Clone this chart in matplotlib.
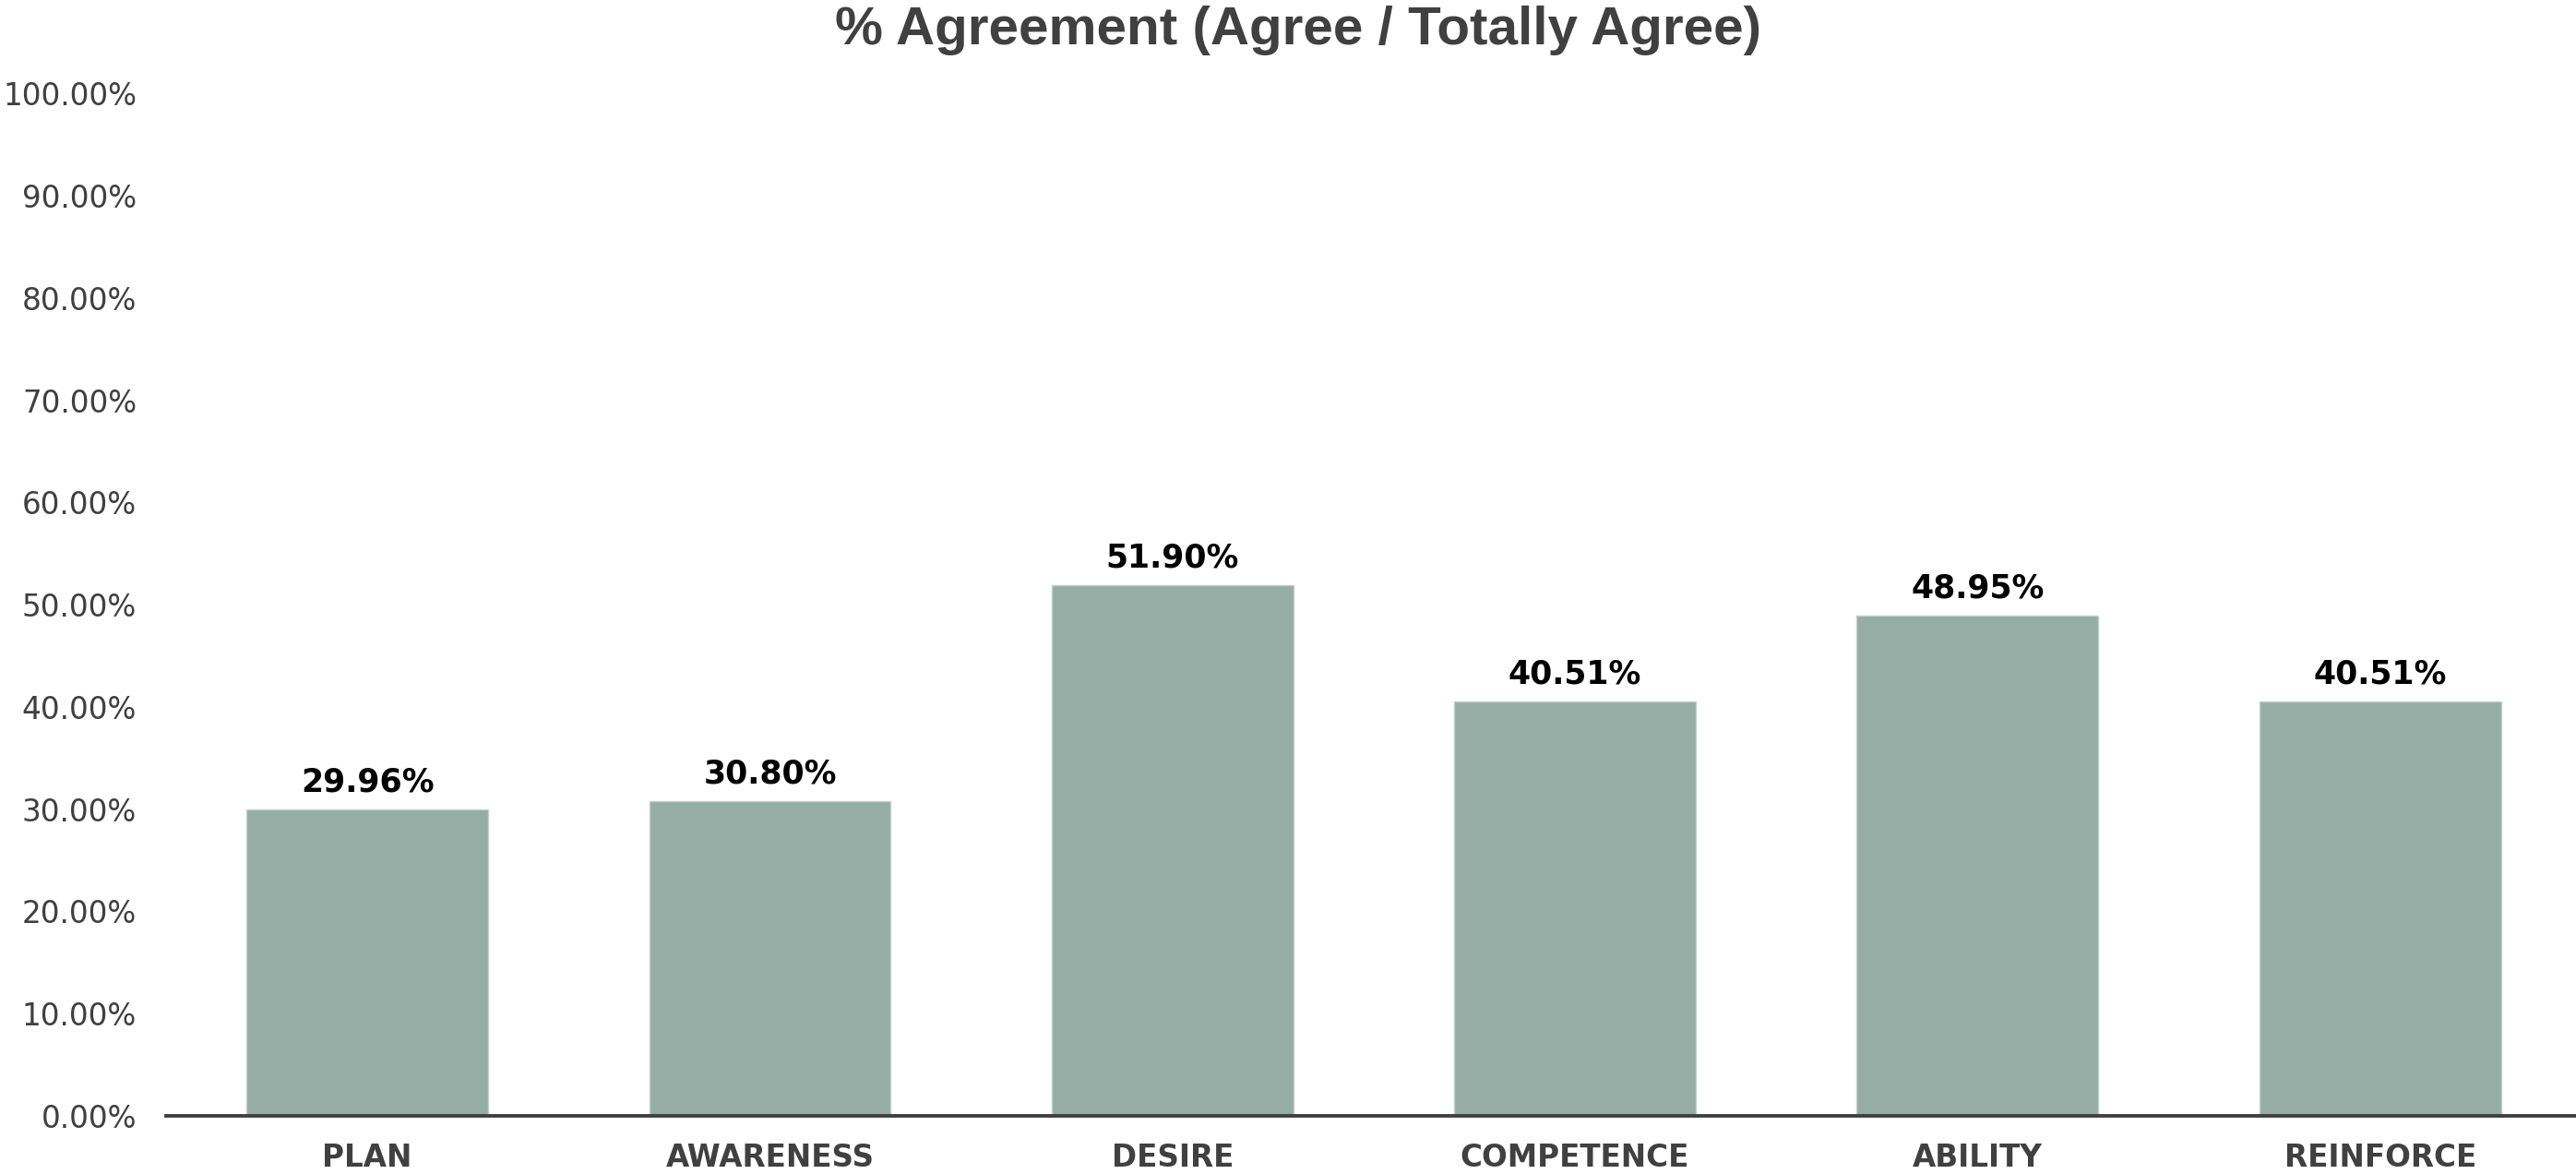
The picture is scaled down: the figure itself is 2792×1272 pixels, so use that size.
import matplotlib
matplotlib.use("Agg")
import matplotlib.pyplot as plt
from matplotlib.ticker import FuncFormatter

categories = ["PLAN", "AWARENESS", "DESIRE", "COMPETENCE", "ABILITY", "REINFORCE"]
values = [29.96, 30.80, 51.90, 40.51, 48.95, 40.51]
yticks = [0, 10, 20, 30, 40, 50, 60, 70, 80, 90, 100]

fig = plt.figure(figsize=(27.92, 12.72), dpi=100)
ax = fig.add_axes([180/2792, 1 - 1209/1272, 6*436.3/2792, (1209-101.5)/1272])

x = list(range(len(categories)))
bars = ax.bar(x, values, width=0.6, color="#95ada4", edgecolor="#c3d1cc", linewidth=1.0)

ax.set_xlim(-0.5, 5.5)
ax.set_ylim(0, 100)
ax.set_yticks(yticks)
ax.yaxis.set_major_formatter(FuncFormatter(lambda v, p: f"{v:.2f}%"))
ax.set_xticks(x)
ax.set_xticklabels(categories, fontsize=23.5, fontweight="bold", color="#404040")

for s in ["top", "right", "left"]:
    ax.spines[s].set_visible(False)
ax.spines["bottom"].set_color("#404040")
ax.spines["bottom"].set_linewidth(2.8)

ax.tick_params(axis="y", length=0, pad=23, labelsize=23.5, labelcolor="#404040")
ax.tick_params(axis="x", length=0, pad=21)

for xi, v in zip(x, values):
    ax.annotate(f"{v:.2f}%", (xi, v), xytext=(0, 9), textcoords="offset points",
                ha="center", va="bottom", fontsize=25, fontweight="bold", color="black")

fig.text(0.5 + 11/2792, 1 - 33/1272, "% Agreement (Agree / Totally Agree)", ha="center", va="center",
         fontsize=42, fontweight="bold", color="#404040", family="Liberation Sans")

fig.savefig("out.png", dpi=100)
